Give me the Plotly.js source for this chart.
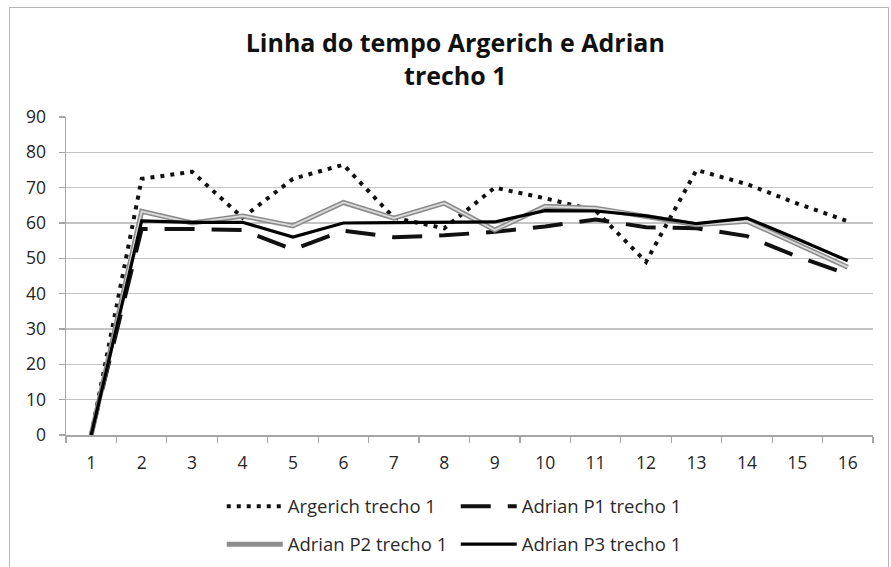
<!DOCTYPE html>
<html>
<head>
<meta charset="utf-8">
<script src="https://cdn.plot.ly/plotly-3.0.1.min.js"></script>
<style>
  html, body { margin: 0; padding: 0; background: #fff; }
  #wrap { position: relative; width: 891px; height: 567px; overflow: hidden; }
  #chart { position: absolute; left: 0; top: 0; width: 891px; height: 567px; }
  #frame { position: absolute; left: 9px; top: 7px; width: 878px; height: 600px;
           border-left: 1px solid #b5b5b5; border-top: 1px solid #b5b5b5; border-right: 1px solid #b5b5b5;
           pointer-events: none; }
</style>
</head>
<body>
<div id="wrap">
  <div id="chart"></div>
  <div id="frame"></div>
</div>
<script>
const categories = ['1','2','3','4','5','6','7','8','9','10','11','12','13','14','15','16'];
const seriesNames = ['Argerich trecho 1', 'Adrian P1 trecho 1', 'Adrian P2 trecho 1', 'Adrian P3 trecho 1'];
const argerich = [0, 72.5, 74.5, 61.5, 72.5, 76.5, 61.5, 58.5, 70, 67, 63.5, 49, 75, 71, 65.5, 60.5];
const adrianP1 = [0, 58.3, 58.3, 58, 52.5, 57.8, 56, 56.5, 57.5, 59, 61, 58.8, 58.5, 56.3, 50.5, 45.5];
const adrianP2 = [0, 63.3, 60, 62, 59.2, 65.8, 61.4, 65.6, 58, 64.7, 64.2, 62, 59.5, 60.5, 54, 47.5];
const adrianP3 = [0, 60.6, 60.2, 60.2, 56, 60, 60.1, 60.1, 60.3, 63.5, 63.4, 62, 59.8, 61.4, 55.5, 49.3];
const yTicks = [0, 10, 20, 30, 40, 50, 60, 70, 80, 90];

const FONT = '"Open Sans", Lato, sans-serif';

const traces = [
  { x: categories, y: argerich, name: seriesNames[0], type: 'scatter', mode: 'lines',
    legend: 'legend', line: { color: '#111', width: 4, dash: '4px,6px' } },
  { x: categories, y: adrianP1, name: seriesNames[1], type: 'scatter', mode: 'lines',
    legend: 'legend', line: { color: '#111', width: 4, dash: '30px,17px' } },
  { x: categories, y: adrianP2, name: seriesNames[2], type: 'scatter', mode: 'lines',
    legend: 'legend2', line: { color: '#8c8c8c', width: 5 } },
  { x: categories, y: adrianP2, name: seriesNames[2], type: 'scatter', mode: 'lines',
    showlegend: false, hoverinfo: 'skip',
    line: { color: '#dcdcdc', width: 1.8 } },
  { x: categories, y: adrianP3, name: seriesNames[3], type: 'scatter', mode: 'lines',
    legend: 'legend2', line: { color: '#000', width: 3.2 } }
];

const legendBase = {
  orientation: 'h', x: 0.193, xanchor: 'left', yref: 'container', yanchor: 'top',
  entrywidth: 163, entrywidthmode: 'pixels', traceorder: 'normal',
  font: { family: FONT, size: 18.5, color: '#2a2a2a' },
  itemwidth: 56, bgcolor: 'rgba(0,0,0,0)'
};

const layout = {
  width: 891, height: 567,
  margin: { l: 66, r: 18, t: 117, b: 132 },
  paper_bgcolor: 'rgba(0,0,0,0)', plot_bgcolor: '#fff',
  font: { family: FONT, color: '#333', size: 16 },
  title: {
    text: '<b>Linha do tempo Argerich e Adrian<br>trecho 1</b>',
    x: 0.511, xanchor: 'center', y: 0.908, yanchor: 'top',
    font: { family: FONT, size: 25, color: '#111' }
  },
  xaxis: {
    type: 'category', categoryorder: 'array', categoryarray: categories,
    range: [-0.5, 15.5], tickson: 'boundaries',
    showgrid: false, zeroline: false, showline: true, linecolor: '#a6a6a6', linewidth: 1.5,
    ticks: 'outside', ticklen: 6, tickcolor: '#a6a6a6', tickwidth: 1.2,
    ticklabelstandoff: 11,
    tickfont: { family: FONT, size: 17.5, color: '#262626' }
  },
  yaxis: {
    range: [0, 90], tickvals: yTicks, ticktext: yTicks.map(String),
    showgrid: true, gridcolor: '#c4c4c4', gridwidth: 1.5,
    zeroline: false, showline: true, linecolor: '#a6a6a6', linewidth: 1.5,
    ticks: 'outside', ticklen: 6, tickcolor: '#a6a6a6', tickwidth: 1.2,
    ticklabelstandoff: 9,
    tickfont: { family: FONT, size: 17.5, color: '#262626' }
  },
  legend: Object.assign({}, legendBase, { y: 0.140 }),
  legend2: Object.assign({}, legendBase, { y: 0.073 }),
  showlegend: true
};

Plotly.newPlot('chart', traces, layout, { displayModeBar: false, staticPlot: true });
</script>
</body>
</html>
